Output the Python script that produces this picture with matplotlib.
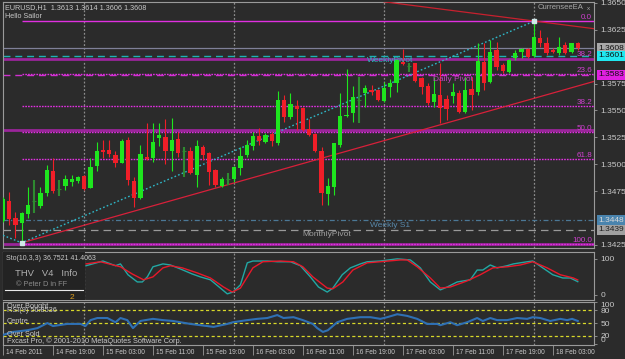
import matplotlib
matplotlib.use("Agg")
import matplotlib.pyplot as plt
import matplotlib.transforms as mtransforms
from matplotlib.patches import Rectangle
import numpy as np

plt.rcParams["font.family"] = ["Liberation Sans", "DejaVu Sans"]

W, H = 625, 359
BG = "#2b2b2b"
FG = "#c8c8c8"
BULL = "#1ee61e"
BEAR = "#f01e28"
DIM = "#2e8a30"

# EURUSD H1 bars, first bar = 14 Feb 2011 11:00
OPEN = [1.3447, 1.3466, 1.3450, 1.34452, 1.34535, 1.3466, 1.34612, 1.3473, 1.34937, 1.3477,
        1.34798, 1.34835, 1.34847, 1.34891, 1.34782, 1.34984, 1.35133, 1.35133, 1.35086, 1.35015,
        1.35225, 1.34847, 1.34689, 1.3507, 1.35055, 1.35247, 1.35256, 1.35123, 1.35232, 1.3512,
        1.35126, 1.349, 1.35158, 1.35102, 1.34947, 1.34801, 1.3486, 1.3486, 1.34963, 1.35086,
        1.3517, 1.35263, 1.3521, 1.35278, 1.35195, 1.35597, 1.35442, 1.35541, 1.3552, 1.35325,
        1.35281, 1.35126, 1.34724, 1.34786, 1.35179, 1.35448, 1.35474, 1.3560, 1.35659, 1.3569,
        1.3569, 1.3559, 1.35715, 1.35752, 1.35947, 1.35913, 1.35938, 1.35799, 1.35727, 1.35581,
        1.35644, 1.35604, 1.35634, 1.35659, 1.35488, 1.35697, 1.35674, 1.35953, 1.35767, 1.36062,
        1.35922, 1.3586, 1.35984, 1.36046, 1.36068, 1.36006, 1.3617, 1.36129, 1.36062, 1.36031,
        1.36108, 1.36046, 1.3613]
HIGH = [1.3470, 1.34745, 1.34559, 1.34559, 1.34792, 1.34854, 1.34792, 1.34993, 1.35055, 1.34854,
        1.349, 1.349, 1.34891, 1.349, 1.35055, 1.35204, 1.35225, 1.35225, 1.35123, 1.35232,
        1.35256, 1.34879, 1.35179, 1.35381, 1.35386, 1.35381, 1.35421, 1.35427, 1.35303, 1.35158,
        1.35163, 1.35225, 1.35179, 1.35117, 1.34953, 1.34885, 1.34916, 1.34984, 1.35163, 1.35225,
        1.35303, 1.35334, 1.35288, 1.35303, 1.35683, 1.35644, 1.35659, 1.35597, 1.35529, 1.35418,
        1.35288, 1.35163, 1.3487, 1.35201, 1.35659, 1.35882, 1.35727, 1.35814, 1.35736, 1.35736,
        1.35697, 1.35767, 1.35789, 1.35976, 1.36068, 1.35938, 1.35944, 1.35814, 1.35752, 1.35814,
        1.35938, 1.35644, 1.35752, 1.3569, 1.35814, 1.35814, 1.36124, 1.36124, 1.36154, 1.36139,
        1.35938, 1.35976, 1.36062, 1.36077, 1.36077, 1.3633, 1.36247, 1.36185, 1.36077, 1.3618,
        1.36139, 1.36129, 1.3614]
LOW = [1.3446, 1.34436, 1.34312, 1.34278, 1.34498, 1.34545, 1.34591, 1.34705, 1.34736, 1.34705,
       1.34761, 1.34798, 1.34829, 1.34761, 1.34777, 1.3494, 1.35055, 1.3507, 1.34972, 1.35009,
       1.34807, 1.346, 1.34677, 1.3504, 1.35024, 1.3517, 1.35002, 1.3494, 1.3507, 1.34885,
       1.3491, 1.34786, 1.3504, 1.34807, 1.34792, 1.34792, 1.34807, 1.34838, 1.349, 1.3507,
       1.35133, 1.35179, 1.35195, 1.3517, 1.35179, 1.35396, 1.35418, 1.35318, 1.35312, 1.35263,
       1.35117, 1.34622, 1.34622, 1.34715, 1.35163, 1.35436, 1.35396, 1.35381, 1.35535, 1.35644,
       1.3559, 1.35581, 1.35628, 1.35674, 1.35922, 1.3586, 1.35767, 1.35653, 1.3555, 1.35535,
       1.35381, 1.35411, 1.35566, 1.35474, 1.35474, 1.35504, 1.35644, 1.3569, 1.35752, 1.35876,
       1.35845, 1.35845, 1.35969, 1.35984, 1.35984, 1.35999, 1.36092, 1.36015, 1.36031, 1.36015,
       1.36024, 1.36031, 1.3606]
CLOSE = [1.3468, 1.3449, 1.34436, 1.34545, 1.34622, 1.3466, 1.3473, 1.34947, 1.34752, 1.3477,
         1.3486, 1.34866, 1.34879, 1.3477, 1.34972, 1.35123, 1.35114, 1.35093, 1.35015, 1.35219,
         1.34854, 1.34684, 1.35093, 1.35046, 1.3521, 1.35272, 1.35126, 1.35225, 1.35102, 1.3512,
         1.34916, 1.3517, 1.35086, 1.34931, 1.34807, 1.3486, 1.3486, 1.34972, 1.35077, 1.35179,
         1.35263, 1.35219, 1.35272, 1.35219, 1.35597, 1.35436, 1.3556, 1.35511, 1.35318, 1.35272,
         1.35126, 1.3473, 1.34798, 1.35195, 1.35448, 1.35458, 1.35628, 1.3560, 1.35706, 1.35674,
         1.35597, 1.35706, 1.35758, 1.35969, 1.35929, 1.35913, 1.35776, 1.35721, 1.35572, 1.35653,
         1.3552, 1.35511, 1.35674, 1.35488, 1.3569, 1.35644, 1.35962, 1.35752, 1.36046, 1.35906,
         1.35869, 1.35969, 1.36037, 1.36068, 1.35999, 1.3618, 1.36124, 1.36037, 1.36046, 1.36092,
         1.36037, 1.36124, 1.3608]

TIME_BARS = [0, 8, 16, 24, 32, 40, 48, 56, 64, 72, 80, 88]
TIME_LABELS = ["14 Feb 2011", "14 Feb 19:00", "15 Feb 03:00", "15 Feb 11:00", "15 Feb 19:00",
               "16 Feb 03:00", "16 Feb 11:00", "16 Feb 19:00", "17 Feb 03:00", "17 Feb 11:00",
               "17 Feb 19:00", "18 Feb 03:00"]
DAY_BARS = [13, 37, 61, 85]

PRICE_TICKS = [1.3650, 1.3625, 1.3575, 1.3550, 1.3525, 1.3500, 1.3475, 1.3425]

FIBO_PRICES = [1.3633, 1.3584, 1.3554, 1.3530, 1.3505, 1.3426]
FIBO_LABELS = ["0.0", "23.6", "38.2", "50.0", "61.8", "100.0"]
DAYHL_PRICES = [1.3598, 1.3532, 1.3426]

ZIGZAG_BARS = [0, 3, 85]
ZIGZAG_PRICES = [1.3434, 1.3427, 1.3633]
TREND_LOW_BARS = [3, 94.6]
TREND_LOW_PRICES = [1.3427, 1.3577]
TREND_HIGH_BARS = [61, 94.6]
TREND_HIGH_PRICES = [1.3651, 1.3626]

BID = 1.3608
WEEKLY_PIVOT = 1.3601
DAILY_PIVOT = 1.3583
WEEKLY_S1 = 1.3448
MONTHLY_PIVOT = 1.3439

STO_MAIN_BARS = [13.3, 16.0, 18.0, 18.8, 20.0, 21.5, 22.3, 23.1, 24.0, 25.6, 26.8, 28.4, 30.3,
                 31.6, 33.2, 34.8, 35.9, 36.8, 38.0, 39.1, 40.0, 42.3, 43.9, 46.0, 47.6, 49.2,
                 50.5, 51.9, 52.8, 54.3, 55.6, 57.2, 58.3, 60.4, 63.1, 65.2, 66.8, 68.4, 70.0,
                 71.1, 72.7, 74.8, 75.9, 76.8, 78.0, 79.1, 80.7, 81.7, 83.9, 84.8, 86.4, 88.0,
                 89.6, 90.8, 92.0]
STO_MAIN = [81, 94, 81, 86, 56, 36, 36, 50, 78, 86, 83, 72, 58, 50, 42, 19, 3, 8, 28, 89, 94,
            94, 92, 92, 81, 50, 22, 8, 19, 56, 75, 86, 92, 94, 100, 97, 75, 36, 14, 22, 36, 42,
            69, 69, 83, 75, 81, 86, 92, 94, 75, 56, 47, 47, 36.8]
STO_SIG_BARS = [13.3, 15.6, 18.8, 20.7, 22.5, 24.0, 25.6, 26.8, 28.7, 31.1, 33.2, 35.3, 36.7,
                38.0, 40.0, 41.6, 44.4, 46.5, 48.0, 49.6, 51.9, 52.8, 54.4, 56.0, 58.3, 60.4,
                63.6, 64.7, 66.3, 68.4, 70.0, 71.6, 74.3, 76.4, 78.4, 80.7, 82.8, 84.8, 87.1,
                89.2, 91.3, 92.0]
STO_SIG = [86, 92, 78, 58, 42, 50, 75, 81, 75, 61, 47, 22, 8, 19, 75, 92, 94, 92, 78, 50, 19,
           17, 36, 69, 89, 92, 97, 97, 78, 47, 19, 22, 39, 56, 75, 78, 83, 92, 75, 56, 47, 41.4]

RSI_BARS = [0.0, 1.6, 3.9, 5.5, 7.1, 8.0, 10.3, 12.4, 13.2, 14.0, 15.1, 16.7, 18.0, 18.8, 19.9,
            20.8, 22.0, 24.0, 25.6, 27.2, 28.4, 30.0, 31.6, 33.7, 35.9, 36.8, 39.1, 40.7, 42.3,
            43.9, 44.9, 46.5, 48.0, 49.6, 50.3, 51.2, 52.0, 53.5, 55.1, 57.2, 58.8, 60.4, 61.5,
            63.1, 64.7, 66.3, 67.9, 69.5, 70.0, 71.6, 72.7, 74.3, 75.9, 76.8, 78.0, 79.1, 80.7,
            82.3, 83.9, 84.8, 86.0, 87.6, 89.2, 90.3, 91.1, 92.0]
RSI = [22, 29, 33, 38, 50, 43, 48, 48, 43, 57, 62, 62, 52, 62, 57, 38, 55, 60, 57, 55, 52, 48,
       45, 41, 48, 52, 57, 60, 62, 69, 62, 64, 57, 48, 38, 29, 33, 52, 60, 64, 64, 60, 64, 71,
       67, 60, 48, 48, 45, 52, 45, 52, 62, 55, 62, 57, 57, 62, 60, 64, 62, 55, 60, 57, 60, 55]
RSI_LEVELS = [80, 50, 20]


def box(x0, y0, x1, y1):
    return [x0 / W, 1 - y1 / H, (x1 - x0) / W, (y1 - y0) / H]


fig = plt.figure(figsize=(W / 100, H / 100), dpi=100)
fig.patch.set_facecolor(BG)
ax = fig.add_axes(box(3, 2, 594, 248))
ax_st = fig.add_axes(box(3, 252, 594, 300), sharex=ax)
ax_rsi = fig.add_axes(box(3, 302, 594, 345), sharex=ax)

for a in (ax, ax_st, ax_rsi):
    a.set_facecolor(BG)
    for s in a.spines.values():
        s.set_color("#9a9a9a")
        s.set_linewidth(0.8)
    a.yaxis.tick_right()
    a.tick_params(axis="y", colors="#9a9a9a", labelcolor=FG, labelsize=6, length=2.5, pad=2,
                  width=0.6)
    a.tick_params(axis="x", bottom=False, labelbottom=False)
    for b in DAY_BARS:
        a.axvline(b, color="#8c8c8c", lw=0.9, ls=(0, (1.5, 1.5)), zorder=1)
ax.set_xlim(0.05, 94.6)

# ---- main price panel
ax.set_ylim(1.34222, 1.36508)
ax.set_yticks(PRICE_TICKS)
ax.set_yticklabels([f"{p:.4f}" for p in PRICE_TICKS])

for p in DAYHL_PRICES:
    ax.axhline(p, color="#9a259a", lw=2.0, zorder=2)
for p, lab in zip(FIBO_PRICES, FIBO_LABELS):
    ls = "-" if lab == "0.0" else (0, (1.2, 0.8))
    ax.hlines(p, 3, 94.6, color="#e030e0", lw=1.0, ls=ls, zorder=3)
    ax.text(94.3, p, lab, color="#d040d0", fontsize=5.8, ha="right", va="bottom", zorder=6)
ax.text(94.3, DAYHL_PRICES[0] + 0.00008, "38.2", color="#d040d0", fontsize=5.8, ha="right",
        va="bottom", zorder=6)

ax.axhline(BID, color="#7f8098", lw=0.9, zorder=2)
ax.axhline(WEEKLY_PIVOT, color="#1fb0b4", lw=1.0, ls=(0, (5, 3.5)), zorder=2)
ax.axhline(DAILY_PIVOT, color="#d030d0", lw=1.0, ls=(0, (5, 3.5)), zorder=2)
ax.axhline(WEEKLY_S1, color="#4b7896", lw=0.9, ls=(0, (4, 2, 1, 2)), zorder=2)
ax.axhline(MONTHLY_PIVOT, color="#9a9a9a", lw=0.9, ls=(0, (6, 4)), zorder=2)

ax.plot(TREND_LOW_BARS, TREND_LOW_PRICES, color="#d8203a", lw=0.9, zorder=3)
ax.plot(TREND_HIGH_BARS, TREND_HIGH_PRICES, color="#c8202e", lw=0.9, zorder=3)
ax.plot(ZIGZAG_BARS, ZIGZAG_PRICES, color="#2fb8c8", lw=1.0, ls=(0, (1.2, 1.6)), zorder=3)
ax.plot(ZIGZAG_BARS[1:], ZIGZAG_PRICES[1:], ls="none", marker="s", ms=2.5,
        mfc="#d0e8e8", mec="#d0e8e8", zorder=6)

# candles
x = np.arange(len(OPEN))
o, h, l, c = map(np.array, (OPEN, HIGH, LOW, CLOSE))
flat = np.isclose(o, c)
up = (c > o) & ~flat
dn = (c < o) & ~flat
for mask, col in ((up, BULL), (dn, BEAR)):
    ax.vlines(x[mask], l[mask], h[mask], color=col, lw=0.8, zorder=4)
    ax.bar(x[mask], np.abs(c - o)[mask], bottom=np.minimum(o, c)[mask], width=0.68,
           color=col, linewidth=0, zorder=5)
ax.vlines(x[flat], l[flat], h[flat], color=DIM, lw=1.5, zorder=4)
ax.hlines(o[flat], x[flat] - 0.3, x[flat] + 0.3, color=DIM, lw=0.8, zorder=4)

# object labels
ax.text(58.3, WEEKLY_PIVOT - 0.00012, "WeeklyPivot", color="#28b8c0", fontsize=6,
        va="top", zorder=6)
ax.text(68.8, DAILY_PIVOT - 0.00014, "Daily Pivot", color="#c040c0", fontsize=6,
        va="top", zorder=6)
ax.text(58.8, WEEKLY_S1 - 0.00012, "Weekly S1", color="#5888aa", fontsize=6, va="top", zorder=6)
ax.text(48.0, MONTHLY_PIVOT - 0.00012, "MonthlyPivot", color="#a0a0a0", fontsize=6,
        va="top", zorder=6)

ax.text(0.004, 0.99, "EURUSD,H1  1.3613 1.3614 1.3606 1.3608", transform=ax.transAxes,
        color=FG, fontsize=5.2, va="top")
ax.text(0.004, 0.955, "Hello Sailor", transform=ax.transAxes, color=FG, fontsize=5.2, va="top")
ax.text(0.905, 0.99, "CurrenseeEA", transform=ax.transAxes, color="#a8a8a8", fontsize=5.5,
        va="top")
ax.text(0.988, 0.985, "x", transform=ax.transAxes, color="#a8a8a8", fontsize=4.5, va="top")

# price boxes on the right scale
yt = mtransforms.blended_transform_factory(ax.transAxes, ax.transData)
for p, fc, tc in ((BID, "#a8a8a8", "#101010"), (WEEKLY_PIVOT, "#20e8f0", "#101010"),
                  (DAILY_PIVOT, "#e020e0", "#101010"), (WEEKLY_S1, "#4a84ae", "#d8d8d8"),
                  (MONTHLY_PIVOT, "#a0a0a0", "#202020")):
    ax.text(1.008, p, f"{p:.4f}", transform=yt, fontsize=6, color=tc, ha="left", va="center",
            zorder=7, bbox=dict(boxstyle="square,pad=0.18", fc=fc, ec="none"))

# ---- stochastic panel
ax_st.set_ylim(-14, 119)
ax_st.set_yticks([100, 0])
ax_st.set_yticklabels(["100", "0"])
ax_st.plot(STO_MAIN_BARS, STO_MAIN, color="#22a8a4", lw=1.0, zorder=3)
ax_st.plot(STO_SIG_BARS, STO_SIG, color="#e8182a", lw=1.0, zorder=3)
ax_st.add_patch(Rectangle((0, 0), 0.139, 1, transform=ax_st.transAxes, fc="#232323",
                          ec="none", zorder=4))
ax_st.plot([0.004, 0.136], [0.2, 0.2], transform=ax_st.transAxes, color="#e8e8e8", lw=0.8,
           zorder=5)
ax_st.text(0.005, 0.86, "Sto(10,3,3) 36.7521 41.4063", transform=ax_st.transAxes, color=FG,
           fontsize=5.0, va="center", zorder=6)
ax_st.text(0.02, 0.56, "THV   V4   Info", transform=ax_st.transAxes, color="#b0b0b0",
           fontsize=6.8, va="center", zorder=6)
ax_st.text(0.022, 0.33, "\u00a9 Peter D in FF", transform=ax_st.transAxes, color="#8a8a8a",
           fontsize=5.3, va="center", zorder=6)
ax_st.text(0.113, 0.06, "2", transform=ax_st.transAxes, color="#e0a020", fontsize=6,
           va="center", zorder=6)

# ---- rsi panel
ax_rsi.set_ylim(-2, 100)
ax_rsi.set_yticks([100, 80, 50, 20, 0])
ax_rsi.set_yticklabels(["100", "80", "50", "20", "0"])
lbls = ax_rsi.get_yticklabels()
lbls[0].set_va("top")
lbls[-1].set_va("bottom")
for lv in RSI_LEVELS:
    ax_rsi.axhline(lv, color="#d8d82a", lw=0.9, ls=(0, (2.5, 2)), zorder=2)
ax_rsi.plot(RSI_BARS, RSI, color="#2f70b4", lw=1.5, zorder=3)
for yy, txt in ((0.90, "Over Bought"), (0.80, "RSI(9) 56.8536"), (0.55, "Centre"),
                (0.24, "Over Sold"), (0.10, "Fxcast Pro, \u00a9 2001-2010 MetaQuotes Software Corp.")):
    ax_rsi.text(0.006, yy, txt, transform=ax_rsi.transAxes, color=FG, fontsize=5.3,
                va="center", zorder=6)

# ---- time scale
ax_rsi.tick_params(axis="x", bottom=True, length=7, width=0.6, color="#9a9a9a", direction="out")
ax_rsi.set_xticks(TIME_BARS)
for b, lab in zip(TIME_BARS, TIME_LABELS):
    ax_rsi.annotate(lab, xy=(b, 0), xycoords=("data", "axes fraction"), xytext=(2.0, -5.2),
                    textcoords="offset points", color=FG, fontsize=4.8, ha="left", va="center")

fig.savefig("out.png", dpi=100, facecolor=BG)
